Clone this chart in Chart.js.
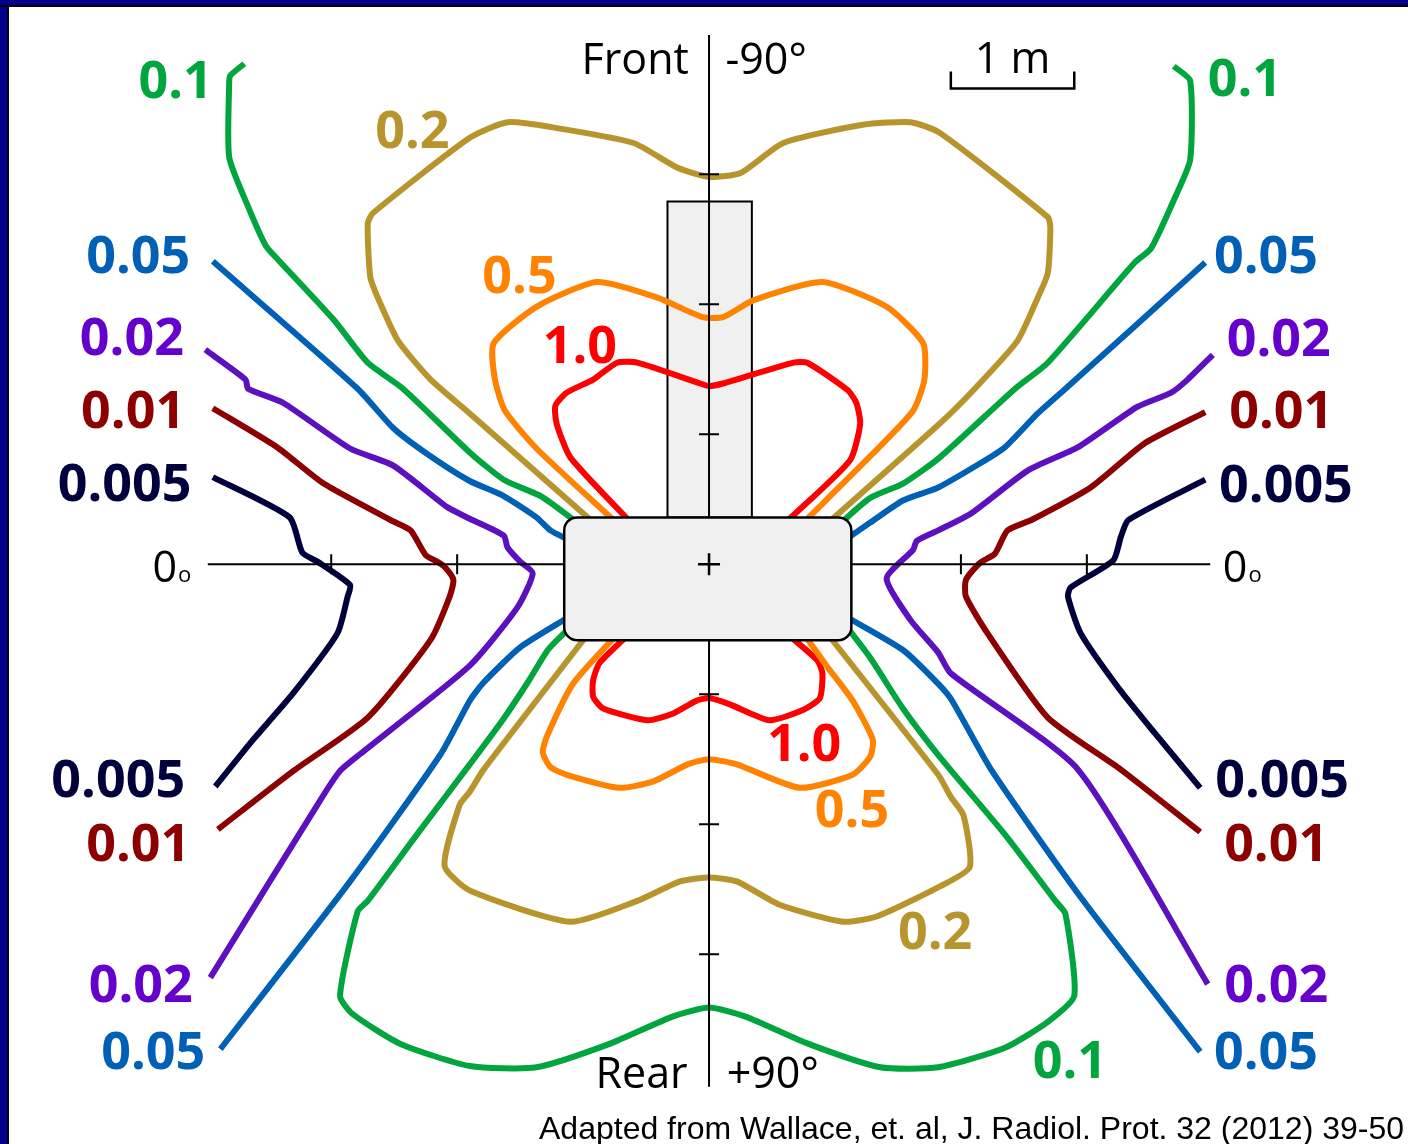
<!DOCTYPE html>
<html>
<head>
<meta charset="utf-8">
<title>Isodose map</title>
<script src="https://cdn.jsdelivr.net/npm/chart.js@4.4.1/dist/chart.umd.min.js"></script>
<style>
  html, body { margin: 0; padding: 0; background: #fff; }
  #wrap { position: relative; width: 1408px; height: 1144px; overflow: hidden; background: #fff; }
  #plot { position: absolute; left: 0; top: 0; }
  #edgeLeft { position: absolute; left: 0; top: 0; width: 7px; height: 1144px; background: #00008a; border-right: 2px solid #000; }
  #edgeTop { position: absolute; left: 0; top: 0; width: 1408px; height: 5px; background: #00008a; border-bottom: 2px solid #000; }
  #cite { position: absolute; left: 539px; top: 1112px; font: 32px "Liberation Sans", Arial, sans-serif; line-height: 32px; color: #000; white-space: nowrap; }
</style>
</head>
<body>
<div id="wrap">
  <canvas id="plot" width="1408" height="1144"></canvas>
  <div id="edgeLeft"></div>
  <div id="edgeTop"></div>
  <div id="cite">Adapted from Wallace, et. al, J. Radiol. Prot. 32 (2012) 39-50</div>
</div>
<script>
// isodose contours, metres from the isocentre (x: right, y: towards front)
const levels = ['0.005', '0.01', '0.02', '0.05', '0.1', '0.2', '0.5', '1.0'];

const d0005Left = [[-3.94,0.67],[-3.33,0.36],[-3.23,0.09],[-3.11,0.02],[-2.85,-0.16],[-2.87,-0.25],[-2.95,-0.53],[-3.30,-0.99],[-3.62,-1.35],[-3.92,-1.71]];
const d0005Right = [[3.94,0.65],[3.33,0.34],[3.27,0.21],[3.21,0.03],[2.87,-0.18],[2.85,-0.25],[2.95,-0.53],[3.25,-0.95],[3.54,-1.30],[3.90,-1.72]];

const d001Left = [[-3.94,1.20],[-3.43,0.90],[-3.06,0.62],[-2.53,0.34],[-2.37,0.26],[-2.25,0.07],[-2.16,0.02],[-2.10,-0.02],[-2.03,-0.12],[-2.06,-0.25],[-2.21,-0.58],[-2.71,-1.18],[-3.30,-1.59],[-3.90,-2.04]];
const d001Right = [[3.94,1.17],[3.46,0.93],[3.03,0.59],[2.56,0.34],[2.37,0.26],[2.27,0.08],[2.15,0.01],[2.04,-0.12],[2.04,-0.25],[2.21,-0.53],[2.69,-1.18],[3.27,-1.58],[3.90,-2.06]];

const d002Left = [[-4.00,1.65],[-3.68,1.42],[-3.66,1.35],[-3.38,1.24],[-2.85,0.89],[-2.51,0.76],[-2.08,0.44],[-1.90,0.35],[-1.63,0.22],[-1.60,0.13],[-1.50,0.02],[-1.40,-0.07],[-1.52,-0.33],[-1.90,-0.78],[-2.77,-1.46],[-2.93,-1.59],[-3.09,-1.82],[-3.96,-3.18]];
const d002Right = [[4.00,1.61],[3.80,1.42],[3.67,1.32],[3.40,1.21],[2.93,0.90],[2.53,0.72],[2.08,0.39],[1.82,0.26],[1.65,0.18],[1.62,0.11],[1.41,-0.11],[1.60,-0.43],[1.82,-0.68],[1.92,-0.84],[2.93,-1.58],[3.96,-3.23]];

const d005UpperLeft = [[-3.94,2.33],[-2.79,1.35],[-2.51,1.05],[-2.24,0.85],[-1.90,0.64],[-1.64,0.53],[-1.37,0.36],[-1.26,0.26],[-1.12,0.19]];
const d005UpperRight = [[3.94,2.32],[2.83,1.35],[2.61,1.16],[2.35,0.90],[2.16,0.78],[1.82,0.59],[1.54,0.49],[1.28,0.32],[1.10,0.20]];
const d005LowerLeft = [[-1.12,-0.41],[-1.50,-0.64],[-1.79,-0.91],[-1.90,-1.05],[-2.13,-1.46],[-2.85,-2.44],[-3.88,-3.73]];
const d005LowerRight = [[1.10,-0.41],[1.54,-0.66],[1.83,-0.93],[1.93,-1.05],[2.24,-1.58],[2.95,-2.56],[3.90,-3.75]];

const d01UpperLeft = [[-3.69,3.85],[-3.80,3.76],[-3.81,3.71],[-3.81,3.13],[-3.66,2.75],[-3.52,2.45],[-3.42,2.34],[-2.98,1.88],[-2.71,1.55],[-2.43,1.35],[-1.90,0.86],[-1.63,0.65],[-1.33,0.52],[-1.06,0.33]];
const d01UpperRight = [[3.69,3.83],[3.82,3.72],[3.82,3.11],[3.69,2.80],[3.51,2.43],[3.38,2.32],[2.69,1.55],[2.43,1.35],[1.83,0.82],[1.54,0.62],[1.28,0.51],[1.06,0.33]];
const d01Rear = [[-1.14,-0.52],[-1.28,-0.66],[-1.44,-0.91],[-1.64,-1.20],[-1.90,-1.54],[-2.32,-2.08],[-2.71,-2.59],[-2.79,-2.67],[-2.93,-3.32],[-2.83,-3.46],[-2.45,-3.69],[-1.90,-3.86],[-1.37,-3.87],[-0.79,-3.69],[-0.29,-3.48],[0,-3.41],[0.29,-3.48],[0.79,-3.69],[1.36,-3.87],[1.82,-3.87],[2.35,-3.72],[2.69,-3.52],[2.90,-3.32],[2.83,-2.69],[2.75,-2.59],[2.35,-2.08],[1.83,-1.48],[1.54,-1.11],[1.28,-0.72],[1.10,-0.49]];

const d02Front = [[-0.94,0.34],[-1.90,1.16],[-2.21,1.42],[-2.47,1.72],[-2.63,2.05],[-2.69,2.21],[-2.71,2.62],[-2.67,2.70],[-1.90,3.28],[-1.60,3.40],[-1.24,3.36],[-0.60,3.24],[-0.25,3.05],[0,2.98],[0.25,3.01],[0.59,3.24],[1.22,3.38],[1.60,3.40],[1.83,3.32],[2.69,2.67],[2.71,2.59],[2.69,2.24],[2.61,2.05],[2.45,1.72],[2.11,1.35],[1.83,1.08],[0.97,0.34]];
const d02Rear = [[-0.98,-0.56],[-1.79,-1.58],[-1.90,-1.75],[-1.98,-1.85],[-2.10,-2.32],[-1.90,-2.51],[-1.10,-2.75],[-0.57,-2.59],[-0.23,-2.44],[0,-2.41],[0.22,-2.44],[0.56,-2.62],[1.06,-2.75],[1.33,-2.71],[1.83,-2.48],[2.07,-2.33],[2.02,-1.93],[1.92,-1.79],[1.82,-1.62],[0.96,-0.56]];

const d05Front = [[-0.76,0.34],[-1.37,0.89],[-1.62,1.18],[-1.70,1.42],[-1.71,1.70],[-1.37,1.98],[-0.89,2.17],[-0.41,2.05],[-0.05,1.90],[0.11,1.90],[0.35,2.03],[0.90,2.17],[1.41,1.98],[1.70,1.70],[1.71,1.42],[1.62,1.18],[1.30,0.85],[0.77,0.34]];
const d05Rear = [[-0.75,-0.56],[-1.08,-0.92],[-1.29,-1.33],[-1.32,-1.45],[-1.26,-1.56],[-1.13,-1.62],[-0.71,-1.72],[-0.44,-1.67],[-0.17,-1.54],[0,-1.50],[0.22,-1.54],[0.72,-1.72],[1.14,-1.62],[1.28,-1.48],[1.30,-1.35],[1.14,-1.05],[0.94,-0.79],[0.77,-0.56]];

const d10Front = [[-0.64,0.34],[-1.10,0.82],[-1.21,1.08],[-1.22,1.22],[-1.13,1.32],[-0.92,1.42],[-0.73,1.55],[-0.57,1.55],[-0.07,1.39],[0,1.37],[0.11,1.39],[0.67,1.55],[0.78,1.55],[1.10,1.34],[1.17,1.24],[1.20,1.08],[1.12,0.80],[0.63,0.34]];
const d10Rear = [[-0.66,-0.56],[-0.87,-0.76],[-0.92,-0.89],[-0.92,-1.02],[-0.84,-1.11],[-0.49,-1.20],[-0.29,-1.15],[-0.10,-1.05],[0,-1.03],[0.17,-1.08],[0.48,-1.20],[0.75,-1.12],[0.88,-1.03],[0.90,-0.84],[0.86,-0.74],[0.65,-0.56]];

// machine outline (metres)
const tableX = [-1.15, 1.13], tableY = [-0.585, 0.36];
const gantryX = [-0.33, 0.34], gantryY = [0.36, 2.79];
// axes and tick marks (metres)
const axisX = [-3.98, 3.98], axisY = [-4.02, 4.07];
const ticksX = [-3, -2, 2, 3];
const ticksY = [-3, -2, -1, 1, 2, 3];
const scaleBar = [1.92, 2.90, 3.66];

const colors = {
  '0.005': '#00003c', '0.01': '#8c0000', '0.02': '#5c10c0', '0.05': '#0060b6',
  '0.1': '#00a53d', '0.2': '#b8952c', '0.5': '#ff8200', '1.0': '#ff0000'
};
const labelColors = Object.assign({}, colors, { '0.02': '#6600cc' });

const pieces = [
  ['0.005', d0005Left], ['0.005', d0005Right],
  ['0.01', d001Left], ['0.01', d001Right],
  ['0.02', d002Left], ['0.02', d002Right],
  ['0.05', d005UpperLeft], ['0.05', d005UpperRight], ['0.05', d005LowerLeft], ['0.05', d005LowerRight],
  ['0.1', d01UpperLeft], ['0.1', d01UpperRight], ['0.1', d01Rear],
  ['0.2', d02Front], ['0.2', d02Rear],
  ['0.5', d05Front], ['0.5', d05Rear],
  ['1.0', d10Front], ['1.0', d10Rear]
];

const doseLabels = [
  { t: '0.1', x: -3.94, y: 3.59, a: 'right' },
  { t: '0.05', x: -4.12, y: 2.24, a: 'right' },
  { t: '0.02', x: -4.17, y: 1.61, a: 'right' },
  { t: '0.01', x: -4.16, y: 1.05, a: 'right' },
  { t: '0.005', x: -4.11, y: 0.49, a: 'right' },
  { t: '0.005', x: -4.16, y: -1.79, a: 'right' },
  { t: '0.01', x: -4.12, y: -2.28, a: 'right' },
  { t: '0.02', x: -4.10, y: -3.37, a: 'right' },
  { t: '0.05', x: -4.00, y: -3.88, a: 'right' },
  { t: '0.1', x: 3.96, y: 3.60 },
  { t: '0.05', x: 4.01, y: 2.24 },
  { t: '0.02', x: 4.11, y: 1.60 },
  { t: '0.01', x: 4.13, y: 1.05 },
  { t: '0.005', x: 4.05, y: 0.48 },
  { t: '0.005', x: 4.02, y: -1.79 },
  { t: '0.01', x: 4.09, y: -2.28 },
  { t: '0.02', x: 4.09, y: -3.37 },
  { t: '0.05', x: 4.01, y: -3.88 },
  { t: '0.2', x: -2.65, y: 3.20 },
  { t: '0.5', x: -1.80, y: 2.09 },
  { t: '1.0', x: -1.32, y: 1.55 },
  { t: '1.0', x: 0.46, y: -1.51 },
  { t: '0.5', x: 0.84, y: -2.02 },
  { t: '0.2', x: 1.50, y: -2.96 },
  { t: '0.1', x: 2.57, y: -3.95 }
];

const figure = {
  id: 'figure',
  beforeDatasetsDraw(chart) {
    const { ctx, scales: { x, y } } = chart;
    ctx.save();
    // gantry arm, behind the contours
    const gx = x.getPixelForValue(gantryX[0]), gx2 = x.getPixelForValue(gantryX[1]);
    const gy = y.getPixelForValue(gantryY[1]), gy2 = y.getPixelForValue(gantryY[0]);
    ctx.fillStyle = '#f0f0f0';
    ctx.fillRect(gx, gy, gx2 - gx, gy2 - gy);
    ctx.strokeStyle = '#000';
    ctx.lineWidth = 2;
    ctx.strokeRect(gx, gy, gx2 - gx, gy2 - gy);
    ctx.restore();
  },
  afterDatasetsDraw(chart) {
    const { ctx, scales: { x, y } } = chart;
    const px = v => x.getPixelForValue(v), py = v => y.getPixelForValue(v);
    const cx = px(0), cy = py(0);
    ctx.save();
    ctx.strokeStyle = '#000';
    ctx.lineWidth = 2;
    ctx.beginPath();
    ctx.moveTo(px(axisX[0]), cy); ctx.lineTo(px(axisX[1]), cy);
    ctx.moveTo(cx, py(axisY[1])); ctx.lineTo(cx, py(axisY[0]));
    ticksX.forEach(t => { ctx.moveTo(px(t), cy - 10); ctx.lineTo(px(t), cy + 10); });
    ticksY.forEach(t => { ctx.moveTo(cx - 10, py(t)); ctx.lineTo(cx + 10, py(t)); });
    ctx.stroke();

    // patient table / detector box
    const bx = px(tableX[0]), bx2 = px(tableX[1]);
    const by = py(tableY[1]), by2 = py(tableY[0]);
    ctx.beginPath();
    ctx.roundRect(bx, by, bx2 - bx, by2 - by, 13);
    ctx.fillStyle = '#f0f0f0';
    ctx.fill();
    ctx.lineWidth = 2.5;
    ctx.stroke();
    ctx.beginPath();
    ctx.moveTo(cx - 11, cy); ctx.lineTo(cx + 11, cy);
    ctx.moveTo(cx, cy - 11); ctx.lineTo(cx, cy + 11);
    ctx.lineWidth = 2.5;
    ctx.stroke();

    // 1 m scale bar
    const sb = py(scaleBar[2]);
    ctx.beginPath();
    ctx.moveTo(px(scaleBar[0]), sb - 17); ctx.lineTo(px(scaleBar[0]), sb);
    ctx.lineTo(px(scaleBar[1]), sb); ctx.lineTo(px(scaleBar[1]), sb - 17);
    ctx.lineWidth = 2.5;
    ctx.stroke();

    // plain text
    ctx.fillStyle = '#000';
    ctx.textBaseline = 'alphabetic';
    ctx.font = '43px "Open Sans", sans-serif';
    ctx.textAlign = 'right';
    ctx.fillText('Front', px(-0.16), py(3.77));
    ctx.fillText('Rear', px(-0.17), py(-4.03));
    ctx.textAlign = 'left';
    ctx.fillText('-90°', px(0.13), py(3.77));
    ctx.fillText('+90°', px(0.14), py(-4.03));
    ctx.fillText('1 m', px(2.11), py(3.78));
    [-4.42, 4.08].forEach(v => {
      ctx.font = '43px "Open Sans", sans-serif';
      ctx.fillText('0', px(v), py(-0.14));
      const w = ctx.measureText('0').width;
      ctx.font = '22px "Open Sans", sans-serif';
      ctx.fillText('o', px(v) + w + 1, py(-0.14));
    });

    // dose labels
    ctx.font = 'bold 52px "Open Sans", sans-serif';
    doseLabels.forEach(l => {
      ctx.fillStyle = labelColors[l.t];
      ctx.textAlign = l.a || 'left';
      ctx.fillText(l.t, px(l.x), py(l.y));
    });
    ctx.restore();
  }
};

new Chart(document.getElementById('plot'), {
  type: 'scatter',
  data: {
    datasets: pieces.map(([level, pts]) => ({
      label: level,
      data: pts.map(([x, y]) => ({ x, y })),
      showLine: true,
      borderColor: colors[level],
      backgroundColor: colors[level],
      borderWidth: 6,
      borderJoinStyle: 'round',
      pointRadius: 0,
      fill: false,
      tension: 0.2
    }))
  },
  options: {
    responsive: false,
    animation: false,
    devicePixelRatio: 1,
    layout: { padding: 0 },
    plugins: { legend: { display: false }, tooltip: { enabled: false } },
    scales: {
      x: { type: 'linear', min: -5.63, max: 5.55, display: false },
      y: { type: 'linear', min: -4.46, max: 4.34, display: false }
    }
  },
  plugins: [figure]
});
</script>
</body>
</html>
